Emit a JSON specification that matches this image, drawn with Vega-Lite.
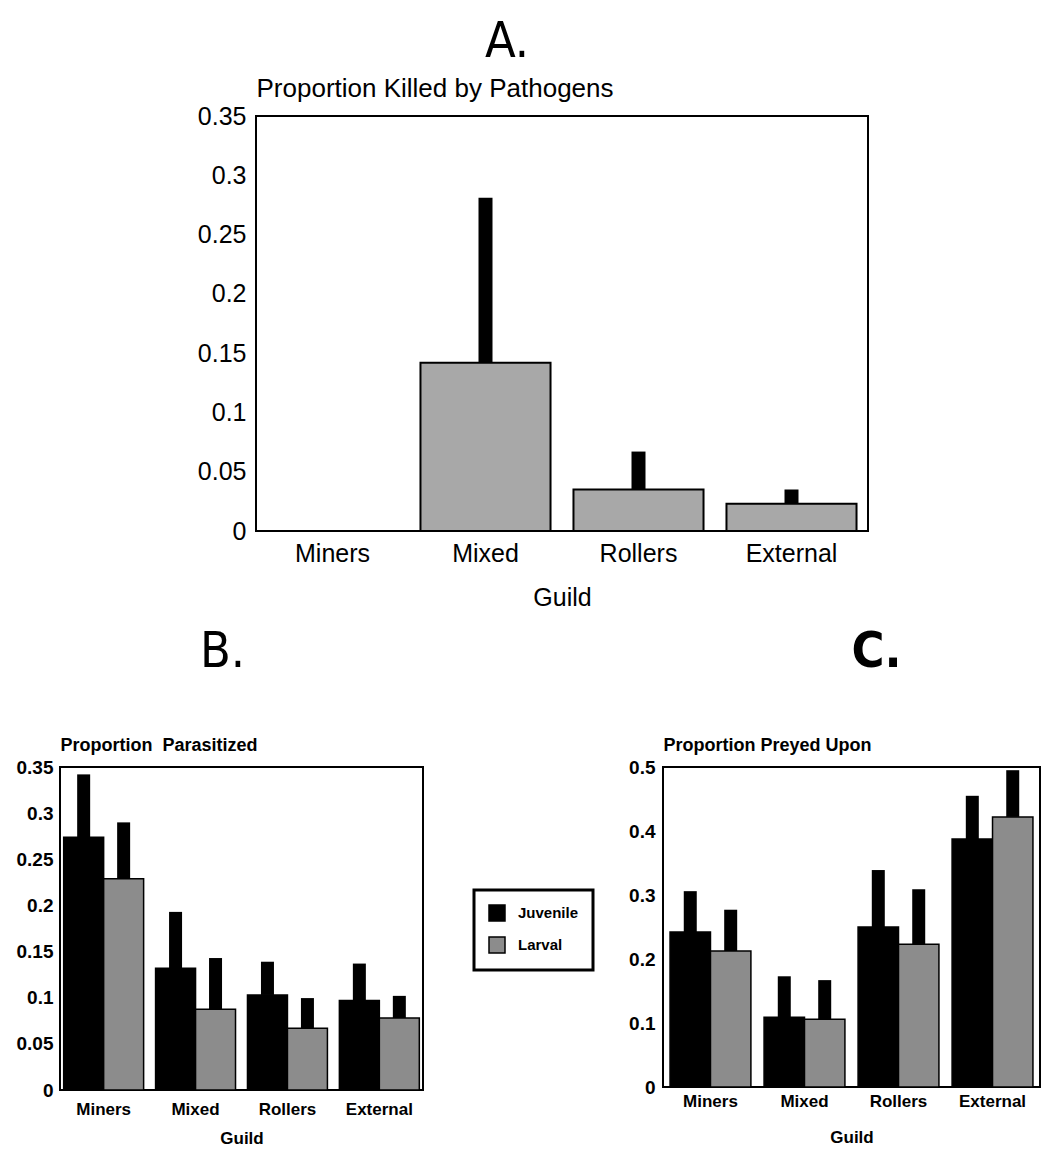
{
  "$schema": "https://vega.github.io/schema/vega-lite/v6.json",
  "background": "white",
  "padding": {"left": 15, "top": 16, "right": 1, "bottom": 1},
  "spacing": 15,
  "config": {
    "view": {"stroke": "black", "strokeWidth": 2},
    "axis": {"domain": false, "ticks": false, "grid": false, "labelColor": "black", "titleColor": "black", "labelFlush": false},
    "legend": {"strokeWidth": 3},
    "text": {"font": "Liberation Sans"}
  },
  "datasets": {
    "pathogens": [
      {"guild": "Miners", "value": 0, "upper": null},
      {"guild": "Mixed", "value": 0.142, "upper": 0.281},
      {"guild": "Rollers", "value": 0.035, "upper": 0.067},
      {"guild": "External", "value": 0.023, "upper": 0.035}
    ],
    "parasitized": [
      {"guild": "Miners", "stage": "Juvenile", "value": 0.274, "upper": 0.342},
      {"guild": "Miners", "stage": "Larval", "value": 0.229, "upper": 0.29},
      {"guild": "Mixed", "stage": "Juvenile", "value": 0.132, "upper": 0.193},
      {"guild": "Mixed", "stage": "Larval", "value": 0.0875, "upper": 0.143},
      {"guild": "Rollers", "stage": "Juvenile", "value": 0.103, "upper": 0.139},
      {"guild": "Rollers", "stage": "Larval", "value": 0.067, "upper": 0.0996},
      {"guild": "External", "stage": "Juvenile", "value": 0.097, "upper": 0.137},
      {"guild": "External", "stage": "Larval", "value": 0.078, "upper": 0.102}
    ],
    "preyed": [
      {"guild": "Miners", "stage": "Juvenile", "value": 0.242, "upper": 0.306},
      {"guild": "Miners", "stage": "Larval", "value": 0.2125, "upper": 0.277},
      {"guild": "Mixed", "stage": "Juvenile", "value": 0.109, "upper": 0.173},
      {"guild": "Mixed", "stage": "Larval", "value": 0.106, "upper": 0.167},
      {"guild": "Rollers", "stage": "Juvenile", "value": 0.25, "upper": 0.339},
      {"guild": "Rollers", "stage": "Larval", "value": 0.223, "upper": 0.309},
      {"guild": "External", "stage": "Juvenile", "value": 0.3875, "upper": 0.455},
      {"guild": "External", "stage": "Larval", "value": 0.422, "upper": 0.495}
    ],
    "empty": []
  },
  "vconcat": [
    {
      "spacing": 0,
      "hconcat": [
        {
          "width": 136,
          "height": 1,
          "view": {"stroke": null},
          "data": {"name": "empty"},
          "mark": {"type": "point", "opacity": 0}
        },
        {
          "title": {"text": "A.", "font": "Liberation Sans Narrow, DejaVu Sans Condensed, sans-serif", "fontSize": 50, "fontWeight": "normal", "anchor": "middle", "frame": "group", "dx": -55, "offset": 8, "color": "black"},
          "width": 612,
          "height": 415,
          "data": {"name": "pathogens"},
          "layer": [
            {
              "mark": {"type": "bar", "fill": "#a8a8a8", "stroke": "black", "strokeWidth": 2},
              "encoding": {
                "x": {
                  "field": "guild", "type": "nominal", "sort": ["Miners", "Mixed", "Rollers", "External"],
                  "scale": {"paddingInner": 0.15, "paddingOuter": 0.075},
                  "axis": {"labelFont": "Liberation Sans", "labelFontSize": 25, "labelAngle": 0, "labelPadding": 10, "title": "Guild", "titleFont": "Liberation Sans", "titleFontSize": 25, "titleFontWeight": "normal", "titlePadding": 19}
                },
                "y": {
                  "field": "value", "type": "quantitative",
                  "scale": {"domain": [0, 0.35], "nice": false},
                  "axis": {"values": [0, 0.05, 0.1, 0.15, 0.2, 0.25, 0.3, 0.35], "format": "~g", "labelFont": "Liberation Sans", "labelFontSize": 25, "labelPadding": 10, "title": "Proportion Killed by Pathogens", "titleAngle": 0, "titleAlign": "left", "titleBaseline": "middle", "titleX": 0, "titleY": -28, "titleFont": "Liberation Sans", "titleFontSize": 26, "titleFontWeight": "normal"}
                }
              }
            },
            {
              "transform": [{"filter": "datum.upper != null"}],
              "mark": {"type": "rule", "color": "black", "strokeWidth": 14},
              "encoding": {
                "x": {"field": "guild", "type": "nominal", "sort": ["Miners", "Mixed", "Rollers", "External"]},
                "y": {"field": "value", "type": "quantitative"},
                "y2": {"field": "upper"}
              }
            }
          ]
        }
      ]
    },
    {
      "spacing": 31,
      "resolve": {"scale": {"fill": "independent", "xOffset": "independent"}, "legend": {"fill": "independent"}},
      "hconcat": [
        {
          "title": {"text": "B.", "font": "Liberation Sans Narrow, DejaVu Sans Condensed, sans-serif", "fontSize": 50, "fontWeight": "normal", "anchor": "middle", "frame": "group", "dx": -19, "offset": 59, "color": "black"},
          "width": 363,
          "height": 323,
          "data": {"name": "parasitized"},
          "layer": [
            {
              "mark": {"type": "bar", "stroke": "black", "strokeWidth": 1.5},
              "encoding": {
                "x": {
                  "field": "guild", "type": "nominal", "sort": ["Miners", "Mixed", "Rollers", "External"],
                  "scale": {"paddingInner": 0.13, "paddingOuter": 0.04},
                  "axis": {"labelFont": "Liberation Sans", "labelFontSize": 17, "labelFontWeight": "bold", "labelAngle": 0, "labelPadding": 11, "title": "Guild", "titleFont": "Liberation Sans", "titleFontSize": 17, "titleFontWeight": "bold", "titlePadding": 13}
                },
                "xOffset": {"field": "stage", "type": "nominal", "sort": ["Juvenile", "Larval"], "scale": {"paddingInner": 0, "paddingOuter": 0}},
                "y": {
                  "field": "value", "type": "quantitative",
                  "scale": {"domain": [0, 0.35], "nice": false},
                  "axis": {"values": [0, 0.05, 0.1, 0.15, 0.2, 0.25, 0.3, 0.35], "format": "~g", "labelFont": "Liberation Sans", "labelFontSize": 19, "labelFontWeight": "bold", "labelPadding": 7, "title": "Proportion\u00a0 Parasitized", "titleAngle": 0, "titleAlign": "left", "titleBaseline": "middle", "titleX": 0, "titleY": -22, "titleFont": "Liberation Sans", "titleFontSize": 18, "titleFontWeight": "bold"}
                },
                "fill": {
                  "field": "stage", "type": "nominal",
                  "scale": {"domain": ["Juvenile", "Larval"], "range": ["black", "#8c8c8c"]},
                  "legend": {"orient": "none", "legendX": 414, "legendY": 123, "title": null, "strokeColor": "black", "fillColor": "white", "padding": 14, "symbolType": "square", "symbolSize": 256, "symbolStrokeColor": "black", "symbolStrokeWidth": 1.5, "labelFont": "Liberation Sans", "labelFontSize": 15, "labelFontWeight": "bold", "labelColor": "black", "labelOffset": 12, "rowPadding": 10}
                }
              }
            },
            {
              "mark": {"type": "rule", "color": "black", "strokeWidth": 13},
              "encoding": {
                "x": {"field": "guild", "type": "nominal", "sort": ["Miners", "Mixed", "Rollers", "External"]},
                "xOffset": {"field": "stage", "type": "nominal", "sort": ["Juvenile", "Larval"]},
                "y": {"field": "value", "type": "quantitative"},
                "y2": {"field": "upper"}
              }
            }
          ]
        },
        {
          "title": {"text": "C.", "font": "Liberation Sans Narrow, DejaVu Sans Condensed, sans-serif", "fontSize": 50, "fontWeight": "bold", "anchor": "middle", "frame": "group", "dx": 25, "offset": 59, "color": "black"},
          "width": 377,
          "height": 320,
          "data": {"name": "preyed"},
          "layer": [
            {
              "mark": {"type": "bar", "stroke": "black", "strokeWidth": 1.5},
              "encoding": {
                "x": {
                  "field": "guild", "type": "nominal", "sort": ["Miners", "Mixed", "Rollers", "External"],
                  "scale": {"paddingInner": 0.14, "paddingOuter": 0.075},
                  "axis": {"labelFont": "Liberation Sans", "labelFontSize": 17, "labelFontWeight": "bold", "labelAngle": 0, "labelPadding": 6, "title": "Guild", "titleFont": "Liberation Sans", "titleFontSize": 17, "titleFontWeight": "bold", "titlePadding": 20}
                },
                "xOffset": {"field": "stage", "type": "nominal", "sort": ["Juvenile", "Larval"], "scale": {"paddingInner": 0, "paddingOuter": 0}},
                "y": {
                  "field": "value", "type": "quantitative",
                  "scale": {"domain": [0, 0.5], "nice": false},
                  "axis": {"values": [0, 0.1, 0.2, 0.3, 0.4, 0.5], "format": "~g", "labelFont": "Liberation Sans", "labelFontSize": 19, "labelFontWeight": "bold", "labelPadding": 8, "title": "Proportion Preyed Upon", "titleAngle": 0, "titleAlign": "left", "titleBaseline": "middle", "titleX": 0, "titleY": -22, "titleFont": "Liberation Sans", "titleFontSize": 18, "titleFontWeight": "bold"}
                },
                "fill": {
                  "field": "stage", "type": "nominal",
                  "scale": {"domain": ["Juvenile", "Larval"], "range": ["black", "#8c8c8c"]},
                  "legend": null
                }
              }
            },
            {
              "mark": {"type": "rule", "color": "black", "strokeWidth": 13},
              "encoding": {
                "x": {"field": "guild", "type": "nominal", "sort": ["Miners", "Mixed", "Rollers", "External"]},
                "xOffset": {"field": "stage", "type": "nominal", "sort": ["Juvenile", "Larval"]},
                "y": {"field": "value", "type": "quantitative"},
                "y2": {"field": "upper"}
              }
            }
          ]
        }
      ]
    }
  ]
}
